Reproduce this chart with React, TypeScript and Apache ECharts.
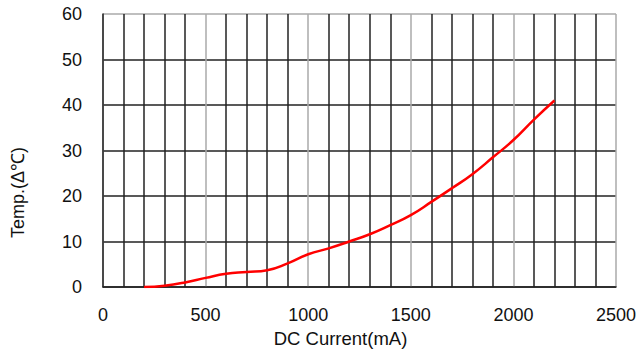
import React, { useEffect, useRef } from "react";
import * as echarts from "echarts";

const currents = [200, 300, 400, 500, 600, 700, 800, 900, 1000, 1100, 1200, 1300, 1400, 1500, 1600, 1700, 1800, 1900, 2000, 2100, 2200];
const temps = [0, 0.3, 1.0, 2.0, 2.9, 3.3, 3.7, 5.2, 7.2, 8.5, 10.0, 11.6, 13.6, 15.8, 18.7, 21.7, 24.8, 28.5, 32.3, 36.8, 41.0];
const xTickLabels = ["0", "500", "1000", "1500", "2000", "2500"];
const yTickLabels = ["0", "10", "20", "30", "40", "50", "60"];

export default function App() {
  const ref = useRef<HTMLDivElement>(null);
  useEffect(() => {
    if (!ref.current) return;
    const chart = echarts.init(ref.current, undefined, { renderer: "svg" });
    const font = "'Liberation Sans', Arial, sans-serif";
    const dark = "#222";
    const light = "#aaa";
    chart.setOption({
      animation: false,
      backgroundColor: "#fff",
      grid: { left: 103, right: 24, top: 14, bottom: 66, containLabel: false },
      xAxis: {
        type: "value",
        min: 0,
        max: 2500,
        interval: 100,
        name: "DC Current(mA)",
        nameLocation: "middle",
        nameGap: 42,
        nameTextStyle: { fontFamily: font, fontSize: 18.5, color: "#111", padding: [0, 38, 0, 0] },
        axisLine: { show: true, lineStyle: { color: dark, width: 1.5 } },
        axisTick: { show: false },
        axisLabel: {
          margin: 19,
          fontFamily: font,
          fontSize: 18,
          color: "#111",
          formatter: (v: number) => (v % 500 === 0 ? xTickLabels[v / 500] : ""),
        },
        splitLine: {
          show: true,
          lineStyle: { color: [light, dark, dark, dark, dark], width: 1.5 },
        },
      },
      yAxis: {
        type: "value",
        min: 0,
        max: 60,
        interval: 10,
        name: "Temp.(Δ℃)",
        nameLocation: "middle",
        nameGap: 76,
        nameTextStyle: { fontFamily: font, fontSize: 18, color: "#111", padding: [0, 84, 0, 0] },
        axisLine: { show: true, lineStyle: { color: dark, width: 1.5 } },
        axisTick: { show: false },
        axisLabel: {
          margin: 21,
          fontFamily: font,
          fontSize: 18,
          color: "#111",
          formatter: (v: number) => yTickLabels[Math.round(v / 10)],
        },
        splitLine: {
          show: true,
          lineStyle: { color: [dark, dark, dark, dark, dark, dark, light], width: 1.5 },
        },
      },
      series: [
        {
          type: "line",
          data: currents.map((c, i) => [c, temps[i]]),
          smooth: true,
          showSymbol: false,
          lineStyle: { color: "#ff0000", width: 2.5 },
        },
      ],
    });
    return () => chart.dispose();
  }, []);
  return <div ref={ref} style={{ width: 640, height: 353, position: "absolute", left: 0, top: 0 }} />;
}
